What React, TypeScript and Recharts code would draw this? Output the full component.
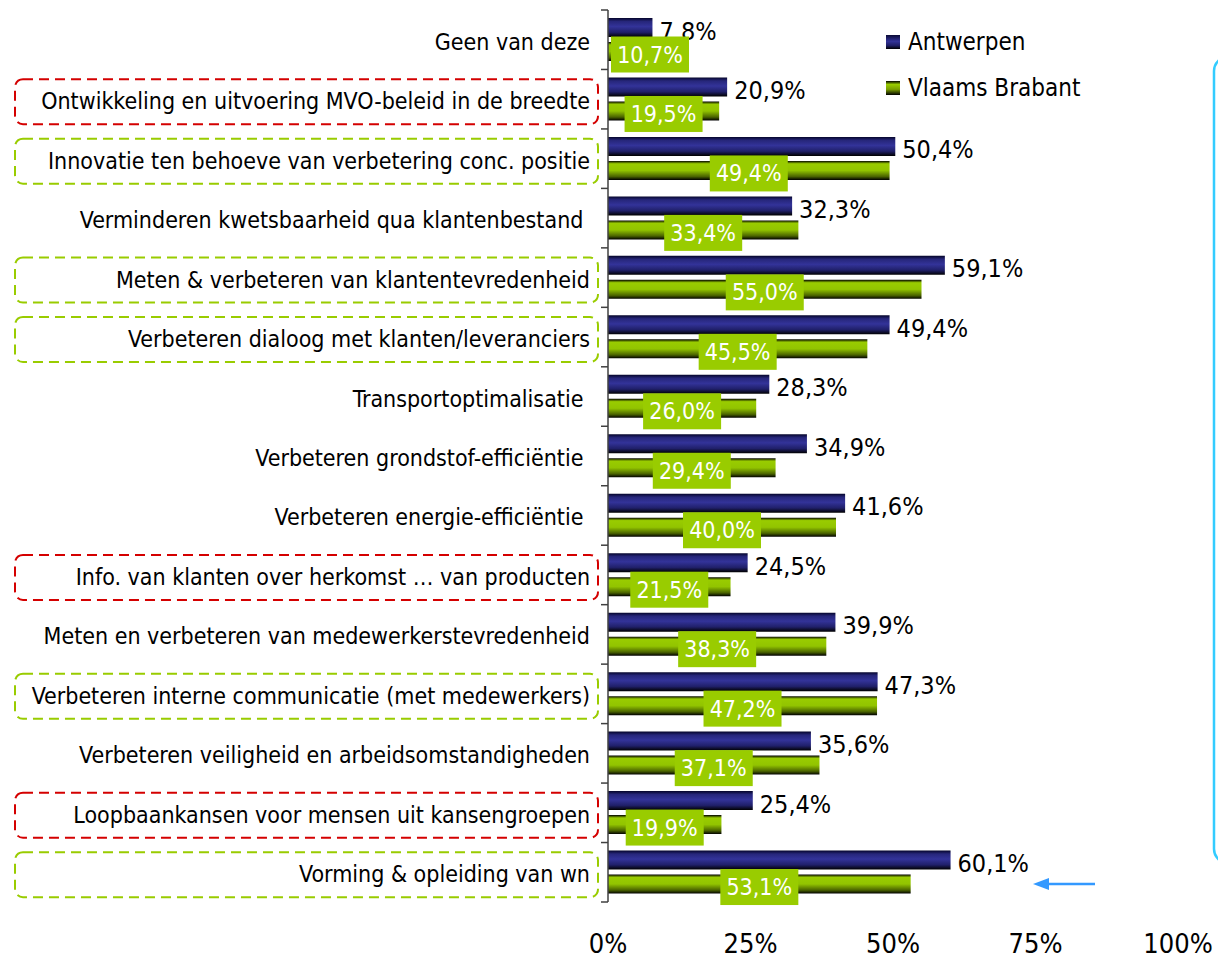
import { Bar, BarChart, LabelList, Legend, XAxis, YAxis } from "recharts";

const categories = [
  "Geen van deze",
  "Ontwikkeling en uitvoering MVO-beleid in de breedte",
  "Innovatie ten behoeve van verbetering conc. positie",
  "Verminderen kwetsbaarheid qua klantenbestand ",
  "Meten & verbeteren van klantentevredenheid",
  "Verbeteren dialoog met klanten/leveranciers",
  "Transportoptimalisatie ",
  "Verbeteren grondstof-efficiëntie ",
  "Verbeteren energie-efficiëntie ",
  "Info. van klanten over herkomst … van producten",
  "Meten en verbeteren van medewerkerstevredenheid",
  "Verbeteren interne communicatie (met medewerkers)",
  "Verbeteren veiligheid en arbeidsomstandigheden",
  "Loopbaankansen voor mensen uit kansengroepen",
  "Vorming & opleiding van wn",
];

const antwerpen = [7.8, 20.9, 50.4, 32.3, 59.1, 49.4, 28.3, 34.9, 41.6, 24.5, 39.9, 47.3, 35.6, 25.4, 60.1];
const vlaamsBrabant = [10.7, 19.5, 49.4, 33.4, 55.0, 45.5, 26.0, 29.4, 40.0, 21.5, 38.3, 47.2, 37.1, 19.9, 53.1];

const redFrames = [
  "Ontwikkeling en uitvoering MVO-beleid in de breedte",
  "Info. van klanten over herkomst … van producten",
  "Loopbaankansen voor mensen uit kansengroepen",
];
const greenFrames = [
  "Innovatie ten behoeve van verbetering conc. positie",
  "Meten & verbeteren van klantentevredenheid",
  "Verbeteren dialoog met klanten/leveranciers",
  "Verbeteren interne communicatie (met medewerkers)",
  "Vorming & opleiding van wn",
];

const xTicks = [0, 25, 50, 75, 100];

const FONT = "'DejaVu Sans Condensed', 'DejaVu Sans', sans-serif";
const W = 1218;
const H = 959;
const MARGIN = { top: 10, right: 40, bottom: 0, left: 0 };
const Y_AXIS_W = 608;
const X_AXIS_H = 57;
const BAND = (H - MARGIN.top - MARGIN.bottom - X_AXIS_H) / categories.length;
const GREEN = "#99cc00";

const data = categories.map((name, i) => ({
  name,
  antwerpen: antwerpen[i],
  vlaamsBrabant: vlaamsBrabant[i],
}));

const fmt = (v: number) => `${v.toFixed(1).replace(".", ",")}%`;

function CategoryTick(props: any) {
  const { y, payload, index } = props;
  const name: string = payload.value;
  const frame = redFrames.includes(name) ? "#d40000" : greenFrames.includes(name) ? GREEN : null;
  const half = BAND / 2;
  return (
    <g>
      {frame && (
        <rect
          x={15}
          y={y - 20}
          width={583}
          height={45}
          rx={8}
          fill="none"
          stroke={frame}
          strokeWidth={2}
          strokeDasharray="10 6"
        />
      )}
      <text
        x={590}
        y={y}
        dy={10}
        textAnchor="end"
        fontFamily={FONT}
        fontSize={23}
        fill="#000"
        style={{ whiteSpace: "pre" }}
      >
        {name}
      </text>
      <line x1={Y_AXIS_W - 7} x2={Y_AXIS_W} y1={y - half} y2={y - half} stroke="#404040" strokeWidth={1.5} />
      {index === categories.length - 1 && (
        <line x1={Y_AXIS_W - 7} x2={Y_AXIS_W} y1={y + half} y2={y + half} stroke="#404040" strokeWidth={1.5} />
      )}
    </g>
  );
}

function PercentTick(props: any) {
  const { x, y, payload } = props;
  return (
    <text x={x} y={y + 43} textAnchor="middle" fontFamily={FONT} fontSize={27} fill="#000">
      {payload.value}%
    </text>
  );
}

function BlueLabel(props: any) {
  const { x, y, width, height, value } = props;
  return (
    <text x={x + width + 7} y={y + height / 2 + 12} fontFamily={FONT} fontSize={25} fill="#000">
      {fmt(value)}
    </text>
  );
}

function GreenLabel(props: any) {
  const { x, y, width, height, value } = props;
  const boxW = 78;
  const boxH = 36;
  const cx = Math.max(x + width / 2, x + 3 + boxW / 2);
  const cy = y + height / 2 + 3;
  return (
    <g>
      <rect x={cx - boxW / 2} y={cy - boxH / 2} width={boxW} height={boxH} fill={GREEN} />
      <text x={cx} y={cy + 8} textAnchor="middle" fontFamily={FONT} fontSize={23} fill="#fff">
        {fmt(value)}
      </text>
    </g>
  );
}

const legendItems = [
  { label: "Antwerpen", bg: "linear-gradient(#0a0a35, #333399 45%, #1e1e66 75%, #000)" },
  { label: "Vlaams Brabant", bg: "linear-gradient(#000, #99cc00 25%, #7a9f00 60%, #000)" },
];

function LegendBox() {
  return (
    <div style={{ fontFamily: FONT, fontSize: 24, color: "#000" }}>
      {legendItems.map((it) => (
        <div key={it.label} style={{ display: "flex", alignItems: "center", height: 46 }}>
          <span style={{ width: 14, height: 14, background: it.bg, marginRight: 8, display: "inline-block" }} />
          <span>{it.label}</span>
        </div>
      ))}
    </div>
  );
}

export default function App() {
  return (
    <div style={{ position: "absolute", left: 0, top: 0, width: W, height: H, background: "#fff" }}>
      <BarChart
        width={W}
        height={H}
        data={data}
        layout="vertical"
        margin={MARGIN}
        barSize={19}
        barGap={5}
      >
        <defs>
          <linearGradient id="blueGrad" x1="0" y1="0" x2="0" y2="1">
            <stop offset="0" stopColor="#05052a" />
            <stop offset="0.18" stopColor="#26267a" />
            <stop offset="0.45" stopColor="#333399" />
            <stop offset="0.75" stopColor="#20206a" />
            <stop offset="1" stopColor="#000000" />
          </linearGradient>
          <linearGradient id="greenGrad" x1="0" y1="0" x2="0" y2="1">
            <stop offset="0" stopColor="#000000" />
            <stop offset="0.15" stopColor="#99cc00" />
            <stop offset="0.5" stopColor="#92c400" />
            <stop offset="0.82" stopColor="#4a6300" />
            <stop offset="1" stopColor="#000000" />
          </linearGradient>
        </defs>
        <XAxis
          type="number"
          domain={[0, 100]}
          ticks={xTicks}
          axisLine={false}
          tickLine={false}
          height={X_AXIS_H}
          tick={<PercentTick />}
          interval={0}
        />
        <YAxis
          type="category"
          dataKey="name"
          width={Y_AXIS_W}
          axisLine={{ stroke: "#404040", strokeWidth: 1.5 }}
          tickLine={false}
          tick={<CategoryTick />}
          interval={0}
        />
        <Legend
          layout="horizontal"
          align="center"
          verticalAlign="middle"
          content={<LegendBox />}
          wrapperStyle={{ position: "absolute", left: 886, top: 19, width: 220 }}
        />
        <Bar dataKey="antwerpen" name="Antwerpen" fill="url(#blueGrad)" isAnimationActive={false}>
          <LabelList dataKey="antwerpen" content={<BlueLabel />} />
        </Bar>
        <Bar dataKey="vlaamsBrabant" name="Vlaams Brabant" fill="url(#greenGrad)" isAnimationActive={false}>
          <LabelList dataKey="vlaamsBrabant" content={<GreenLabel />} />
        </Bar>
      </BarChart>
      <svg
        width={W}
        height={H}
        style={{ position: "absolute", left: 0, top: 0, pointerEvents: "none" }}
      >
        <rect x={1214} y={57} width={60} height={806} rx={14} fill="none" stroke="#33ccff" strokeWidth={2.5} />
        <line x1={1095} y1={884} x2={1046} y2={884} stroke="#3399ff" strokeWidth={2.5} />
        <polygon points="1033,884 1049,878 1049,890" fill="#3399ff" />
      </svg>
    </div>
  );
}
